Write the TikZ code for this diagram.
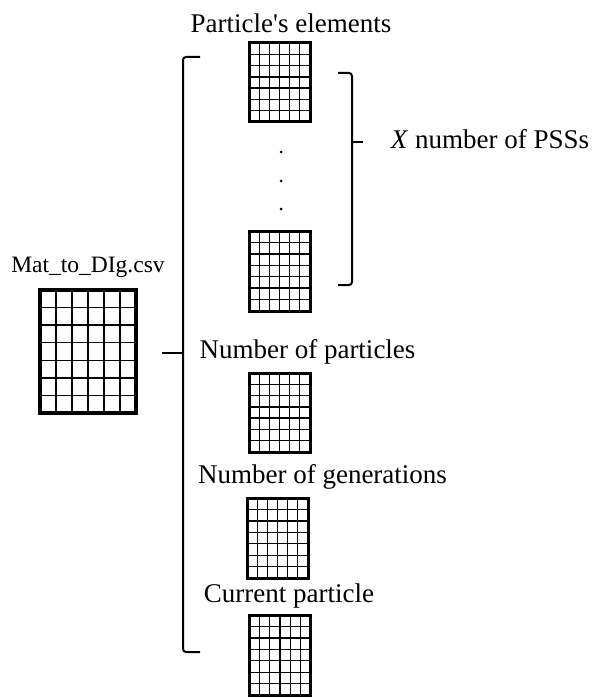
\documentclass[tikz,border=0pt]{standalone}
\usepackage{fontspec}
\setmainfont{Liberation Serif}
\usetikzlibrary{calc}
\tikzset{
  gridbox/.style={inner sep=0pt, outer sep=0pt},
  gridline/.style={line width=1.3pt, black},
  gridborder/.style={line width=3pt, black},
  bigborder/.style={line width=4pt, black},
  lbl/.style={inner sep=0pt, anchor=base, font=\fontsize{27}{32}\selectfont},
  filelbl/.style={inner sep=0pt, anchor=base, font=\fontsize{23.5}{28}\selectfont},
  bracket/.style={line width=2pt, black, rounded corners=3pt},
  dotmark/.style={circle, fill=black, inner sep=0pt, minimum size=3pt}
}
\newcommand\mygrid[2]{%
  \foreach \i in {1,...,5}
    \draw[gridline] ($(#1.south west)!\i/6!(#1.south east)$) -- ($(#1.north west)!\i/6!(#1.north east)$);
  \foreach \j in {1,...,6}
    \draw[gridline] ($(#1.south west)!\j/7!(#1.north west)$) -- ($(#1.south east)!\j/7!(#1.north east)$);
  \draw[#2] (#1.south west) rectangle (#1.north east);
}
\begin{document}
\begin{tikzpicture}[x=1pt,y=-1pt]
\useasboundingbox (0,0) rectangle (602,698);
% grids
\node[gridbox, minimum width=96pt, minimum height=123pt] (big) at (88,351.5) {};
\node[gridbox, minimum width=61pt, minimum height=79pt] (g1) at (279.5,82.5) {};
\node[gridbox, minimum width=61pt, minimum height=80pt] (g2) at (279.5,271) {};
\node[gridbox, minimum width=61pt, minimum height=79pt] (g3) at (279.5,412.5) {};
\node[gridbox, minimum width=61pt, minimum height=80pt] (g4) at (277.5,538) {};
\node[gridbox, minimum width=61pt, minimum height=80pt] (g5) at (280,655) {};
\mygrid{big}{bigborder}
\mygrid{g1}{gridborder}
\mygrid{g2}{gridborder}
\mygrid{g3}{gridborder}
\mygrid{g4}{gridborder}
\mygrid{g5}{gridborder}
% labels
\node[filelbl] (lfile) at (88,272) {Mat\_to\_DIg.csv};
\node[lbl] (l1) at (291,33) {Particle\textquotesingle s elements};
\node[lbl] (lx) at (490,148) {\textit{X} number of PSSs};
\node[lbl] (l3) at (307.5,358) {Number of particles};
\node[lbl] (l4) at (322.5,483) {Number of generations};
\node[lbl] (l5) at (289,602) {Current particle};
% dots
\node[dotmark] (d1) at (281,152) {};
\node[dotmark] (d2) at (281,181) {};
\node[dotmark] (d3) at (281,209) {};
% left brace
\coordinate (bt) at (200,57);
\coordinate (bb) at (200,652);
\coordinate (bm) at (183,353);
\coordinate (btip) at (162,353);
\draw[bracket] (bt) -- (183,57) -- (183,652) -- (bb);
\draw[line width=2pt] (bm) -- (btip);
% right bracket
\coordinate (rt) at (338,73);
\coordinate (rb) at (338,285);
\coordinate (rm) at (352,142);
\coordinate (rtip) at (363,142);
\draw[bracket] (rt) -- (352,73) -- (352,285) -- (rb);
\draw[line width=2pt] (rm) -- (rtip);
\end{tikzpicture}
\end{document}
